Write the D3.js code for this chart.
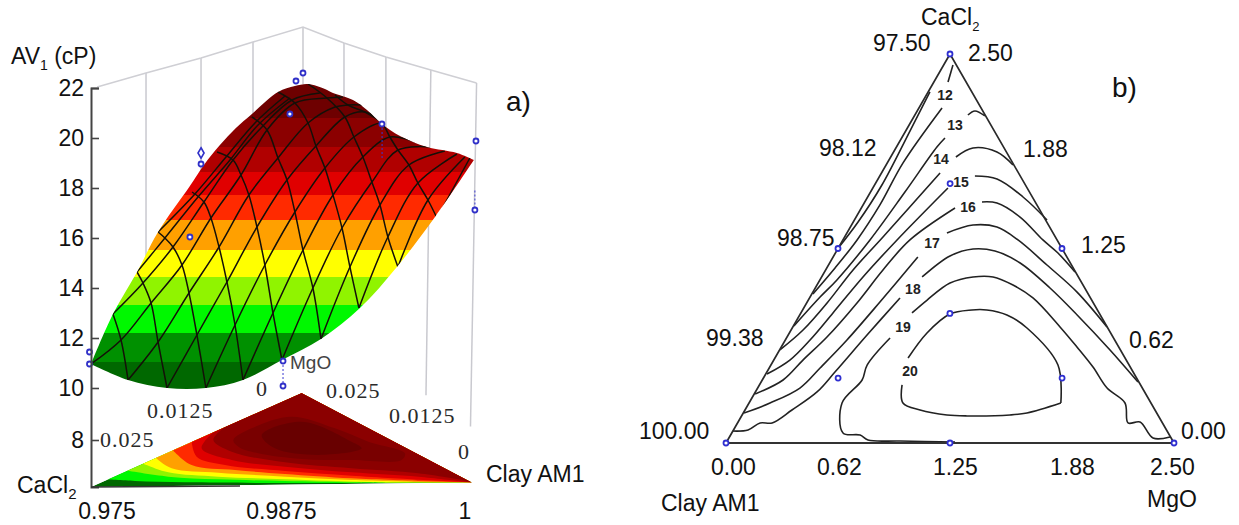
<!DOCTYPE html>
<html>
<head>
<meta charset="utf-8">
<script src="https://cdn.jsdelivr.net/npm/d3@7"></script>
<style>
  html, body { margin: 0; padding: 0; background: #fff; }
  svg { display: block; }
  text { font-family: "Liberation Sans", Arial, sans-serif; fill: #111; }
  .serif { font-family: "Liberation Serif", serif; fill: #2a2a2a; letter-spacing: 1px; }
</style>
</head>
<body>
<div id="chart"></div>
<script>
// panel a: all pairs are [Clay AM1 %, AV1 cP], base pairs are [Clay AM1 %, MgO %]
const avTicks = [8, 10, 12, 14, 16, 18, 20, 22];
const bandLevels = [9, 11.04, 12.2, 13.32, 14.44, 15.52, 16.72, 17.72, 18.64, 19.64, 20.8, 23];
const bandColors = ['#006800', '#009000', '#00f800', '#90f400', '#ffff00', '#ffa000', '#ff2a00', '#e00000', '#b00000', '#8b0000', '#6e0000'];

const surfaceTop = [[97.5, 10.96], [97.644, 12.96], [97.802, 14.64], [97.94, 16.24], [98.149, 18.08], [98.241, 18.92], [98.346, 19.72], [98.451, 20.4], [98.556, 20.96], [98.727, 21.84], [98.838, 22.08], [98.924, 22.16], [99.035, 21.96], [99.088, 21.8], [99.219, 21.52], [99.311, 21.12], [99.409, 20.56], [99.527, 20.08], [99.704, 19.64], [99.901, 19.4], [100.012, 19.12]];
const surfaceFront = [[100.012, 19.12], [99.757, 16.84], [99.507, 14.84], [99.265, 13.2], [99.009, 11.96], [98.753, 11.12], [98.497, 10.32], [98.254, 10], [97.999, 10], [97.743, 10.32], [97.5, 10.96]];

const meshFalling = [
  [[97.644, 12.96], [97.697, 11.92], [97.743, 10.32]],
  [[97.802, 14.64], [97.841, 14.2], [97.894, 13.4], [97.94, 11.84], [97.999, 10]],
  [[97.94, 16.24], [97.985, 16], [98.038, 15.64], [98.097, 14.92], [98.143, 13.8], [98.195, 12.12], [98.254, 10]],
  [[98.163, 17.84], [98.241, 17.44], [98.287, 16.8], [98.34, 15.64], [98.392, 14.24], [98.445, 12.52], [98.497, 10.32]],
  [[98.327, 19.44], [98.432, 19.12], [98.484, 18.52], [98.536, 17.72], [98.589, 16.44], [98.641, 14.92], [98.694, 13], [98.753, 11.12]],
  [[98.556, 20.84], [98.655, 20.32], [98.727, 19.2], [98.786, 18.32], [98.838, 17.04], [98.891, 15.52], [98.956, 14], [99.009, 11.96]],
  [[98.727, 21.84], [98.838, 21.4], [98.924, 20.6], [98.976, 19.68], [99.035, 18.8], [99.088, 17.72], [99.147, 16.4], [99.199, 14.84], [99.258, 13.2]],
  [[98.924, 22.16], [99.048, 21.6], [99.166, 20.84], [99.225, 20.04], [99.284, 19.24], [99.343, 18.24], [99.396, 17.32], [99.448, 16.04], [99.514, 14.84]],
  [[99.101, 21.72], [99.186, 21.32], [99.297, 21.04], [99.409, 20.6], [99.461, 20.04], [99.514, 19.52], [99.586, 18.92], [99.645, 18.2], [99.711, 17.52], [99.77, 16.8]]
];
const meshRising = [
  [[97.94, 16.24], [98.182, 17.76], [98.386, 19.24], [98.582, 20.64], [98.773, 21.68]],
  [[97.802, 14.64], [97.985, 16], [98.202, 17.64], [98.412, 19.12], [98.596, 20.52], [98.805, 21.6]],
  [[97.644, 12.96], [97.841, 14.2], [98.038, 15.64], [98.241, 17.44], [98.432, 19.12], [98.622, 20.44], [98.819, 21.52], [99.002, 21.8]],
  [[97.5, 10.96], [97.697, 11.92], [97.894, 13.4], [98.097, 14.92], [98.287, 16.8], [98.484, 18.52], [98.655, 20.32], [98.838, 21.4], [99.048, 21.6], [99.153, 21.64]],
  [[97.743, 10.32], [97.94, 11.84], [98.143, 13.8], [98.34, 15.64], [98.536, 17.72], [98.727, 19.2], [98.924, 20.6], [99.101, 21.24], [99.186, 21.32], [99.278, 21.32]],
  [[97.999, 10], [98.195, 12.12], [98.392, 14.24], [98.589, 16.44], [98.786, 18.32], [98.976, 19.68], [99.166, 20.84], [99.297, 21.04], [99.416, 20.64]],
  [[98.254, 10], [98.445, 12.52], [98.641, 14.92], [98.838, 17.04], [99.035, 18.8], [99.225, 20.04], [99.409, 20.6], [99.527, 20.12]],
  [[98.497, 10.32], [98.694, 13], [98.891, 15.52], [99.088, 17.72], [99.284, 19.24], [99.461, 20.04], [99.625, 19.84]],
  [[98.753, 11.12], [98.956, 14], [99.147, 16.4], [99.343, 18.24], [99.514, 19.52], [99.724, 19.64]],
  [[99.009, 11.96], [99.199, 14.84], [99.396, 17.32], [99.586, 18.92], [99.822, 19.48]],
  [[99.258, 13.2], [99.448, 16.04], [99.645, 18.2], [99.901, 19.36]],
  [[99.514, 14.84], [99.711, 17.52], [99.953, 19.24]],
  [[99.77, 16.8], [99.986, 19.2]]
];

// back walls of the box
const wallClay = [97.861, 98.222, 98.563, 98.891, 99.16, 99.435, 99.73, 100.03];
const wallClayFoot = [97.861, 98.222, 98.563, 98.891, 99.16, 99.435, 99.698, 99.99];
const wallTop = [22.6, 23.2, 23.84, 24.44, 23.8, 23.24, 22.72, 22.2];
const wallFoot = [15.04, 17.92, 20.8, 22.16, 21.64, 18.6, 9.72, 8.52];
const wallRim = [[97.54, 22.04], [97.861, 22.6], [98.222, 23.2], [98.563, 23.84], [98.891, 24.44], [99.16, 23.8], [99.435, 23.24], [99.73, 22.72], [100.03, 22.2]];

// design points over the surface
const surfacePoints = [[97.49, 11.44], [97.49, 10.96], [98.222, 18.96], [98.149, 16.04], [98.845, 22.28], [98.891, 22.6], [98.805, 20.96], [99.409, 20.56], [100.026, 19.88], [100.019, 17.12], [98.76, 11.08], [98.76, 10.08]];
const surfaceDiamonds = [[98.222, 19.4]];
const pointStems = [[[98.76, 11.08], [98.76, 10.08]], [[100.019, 17.9], [100.019, 17.12]], [[99.41, 20.56], [99.41, 19.2]]];

// base triangle, lower boundary of every colour band, index into bandColors
const baseCorners = [[97.5, 0], [98.882, 2.5], [100, 0.12]];
const baseBandIndex = [2, 3, 4, 5, 6, 7, 8, 9];
const baseBands = [
  [[97.592, 0.204], [97.789, 0.159], [98.117, 0.124], [98.598, 0.106], [99.21, 0.106], [99.648, 0.124]],
  [[97.723, 0.443], [98.007, 0.275], [98.335, 0.204], [98.773, 0.159], [99.21, 0.124], [99.429, 0.115]],
  [[97.832, 0.638], [98.007, 0.39], [98.335, 0.275], [98.773, 0.204], [99.32, 0.133], [99.648, 0.124]],
  [[97.92, 0.789], [98.029, 0.496], [98.335, 0.381], [98.773, 0.275], [99.21, 0.186], [99.648, 0.133]],
  [[98.034, 0.993], [98.16, 0.585], [98.445, 0.452], [98.773, 0.346], [99.21, 0.23], [99.648, 0.159]],
  [[98.16, 1.215], [98.193, 0.807], [98.379, 0.585], [98.773, 0.425], [99.21, 0.301], [99.648, 0.195]],
  [[98.303, 1.463], [98.226, 1.028], [98.423, 0.718], [98.773, 0.541], [99.21, 0.39], [99.648, 0.275], [99.91, 0.159]],
  [[98.379, 1.605], [98.303, 1.25], [98.423, 0.939], [98.773, 0.656], [99.21, 0.496], [99.648, 0.363], [99.932, 0.186]]
];
const basePeakOuter = [[98.434, 1.25], [98.554, 1.56], [98.816, 1.871], [99.101, 1.56], [99.32, 1.206], [99.56, 0.895], [99.538, 0.718], [99.21, 0.718], [98.882, 0.745], [98.598, 0.895], [98.467, 1.073]];
const basePeakInner = [[98.62, 1.383], [98.882, 1.738], [99.21, 1.206], [99.276, 1.028], [98.992, 0.851], [98.707, 1.028]];

// panel b: all pairs are [MgO %, CaCl2 %]
const ternaryPoints = [[0, 2.5], [0, 1.25], [1.25, 1.25], [0.417, 1.667], [0.833, 0.833], [0.417, 0.417], [1.667, 0.417], [0, 0], [1.25, 0], [2.5, 0]];
const contourLines = [
  [[0, 1.253], [0.027, 1.42], [0.041, 1.658], [0.024, 2.005], [0.01, 2.256]],
  [[0.052, 2.429], [0.079, 2.32]],
  [[0.006, 0.958], [0.046, 1.125], [0.079, 1.305], [0.094, 1.53], [0.088, 1.8], [0.129, 2.153]],
  [[0.003, 0.752], [0.056, 0.938], [0.095, 1.048], [0.151, 1.305], [0.192, 1.613], [0.226, 1.902], [0.242, 1.96]],
  [[0.296, 2.108], [0.322, 2.134], [0.394, 2.102]],
  [[0.002, 0.598], [0.067, 0.726], [0.114, 0.9], [0.153, 1.112], [0.214, 1.324], [0.327, 1.735]],
  [[0.364, 1.838], [0.43, 1.896], [0.577, 1.87], [0.708, 1.787]],
  [[0.007, 0.443], [0.09, 0.533], [0.138, 0.662], [0.179, 0.836], [0.231, 1.067], [0.302, 1.305], [0.419, 1.639]],
  [[0.531, 1.716], [0.664, 1.697], [0.867, 1.581], [1.075, 1.433]],
  [[0.005, 0.315], [0.116, 0.405], [0.163, 0.533], [0.223, 0.681], [0.281, 0.9], [0.32, 1.112], [0.374, 1.305], [0.523, 1.51]],
  [[0.654, 1.549], [0.741, 1.542], [0.915, 1.452], [1.116, 1.305], [1.242, 1.221], [1.398, 1.099]],
  [[0.004, 0.193], [0.117, 0.257], [0.236, 0.353], [0.284, 0.482], [0.344, 0.662], [0.406, 0.906], [0.473, 1.195]],
  [[0.558, 1.35], [0.678, 1.401], [0.818, 1.388], [0.977, 1.305], [1.219, 1.144], [1.474, 0.97], [1.753, 0.746]],
  [[0, 0.077], [0.081, 0.084], [0.126, 0.129], [0.193, 0.129], [0.262, 0.212], [0.344, 0.328], [0.38, 0.456], [0.44, 0.694], [0.505, 0.932]],
  [[0.561, 1.067], [0.649, 1.202], [0.755, 1.247], [0.884, 1.234], [1.063, 1.157], [1.31, 0.996], [1.548, 0.823], [1.844, 0.598], [2.103, 0.392]],
  [[0.578, 0.675], [0.537, 0.501], [0.557, 0.405], [0.519, 0.257], [0.621, 0.064], [0.723, 0.051], [0.783, 0.019], [0.965, 0.013], [1.275, 0.006]],
  [[0.62, 0.836], [0.663, 0.919], [0.736, 1.028], [0.845, 1.067], [0.957, 1.067], [1.094, 1.015], [1.247, 0.932], [1.491, 0.746], [1.65, 0.617], [1.804, 0.488], [1.95, 0.353], [2.098, 0.257], [2.179, 0.129], [2.243, 0.135], [2.367, 0.032], [2.458, 0.039]],
  [[0.796, 0.373], [0.859, 0.257], [0.977, 0.212], [1.143, 0.18], [1.258, 0.174], [1.495, 0.18], [1.583, 0.193], [1.74, 0.257]],
  [[1.74, 0.257], [1.602, 0.501], [1.31, 0.739], [1.156, 0.823], [1.028, 0.855], [0.945, 0.855], [0.835, 0.829], [0.768, 0.707], [0.743, 0.546]]
];
const contourValues = [12, 13, 14, 15, 16, 17, 18, 19, 20];
const contourLabelSpots = [[0.104, 2.237], [0.256, 2.044], [0.287, 1.825], [0.473, 1.677], [0.592, 1.517], [0.507, 1.285], [0.548, 0.99], [0.615, 0.746], [0.795, 0.463]];

const svg = d3.select('#chart').append('svg').attr('width', 1239).attr('height', 525);

function label(x, y, str, opts = {}) {
  const t = svg.append('text')
    .attr('x', x)
    .attr('y', y)
    .attr('class', opts.cls || null)
    .style('font-size', (opts.size || 23) + 'px')
    .style('text-anchor', opts.anchor || 'start')
    .text(str);
  if (opts.fill) t.style('fill', opts.fill);
  if (opts.sub) {
    t.append('tspan').attr('dy', opts.subDy || 7).style('font-size', (opts.subSize || 14) + 'px').text(opts.sub);
    if (opts.after) t.append('tspan').attr('dy', -(opts.subDy || 7)).text(opts.after);
  }
  return t;
}

// ---------- panel a ----------
const xClay = d3.scaleLinear().domain([97.5, 100]).range([91, 472]);
const yAv = d3.scaleLinear().domain([6.04, 8, 10, 22]).range([487, 440, 388, 88]);
const yMgo = d3.scaleLinear().domain([0, 2.5]).range([487, 393]);

const surfaceLine = d3.line().x(d => xClay(d[0])).y(d => yAv(d[1])).curve(d3.curveCatmullRom.alpha(0.5));
const baseLine = d3.line().x(d => xClay(d[0])).y(d => yMgo(d[1]));

// walls
wallClay.forEach((c, i) => {
  svg.append('line')
    .attr('x1', xClay(c)).attr('y1', yAv(wallTop[i]))
    .attr('x2', xClay(wallClayFoot[i])).attr('y2', yAv(wallFoot[i]))
    .attr('stroke', '#c9c9cf').attr('stroke-width', 1.5);
});
svg.append('path')
  .attr('d', d3.line().x(d => xClay(d[0])).y(d => yAv(d[1]))(wallRim))
  .attr('fill', 'none').attr('stroke', '#cfcfd4').attr('stroke-width', 1.5);

// surface, flat colour bands clipped by the outline
const outline = surfaceLine(surfaceTop) + surfaceLine(surfaceFront).replace('M', 'L') + 'Z';
svg.append('clipPath').attr('id', 'surfaceClip').append('path').attr('d', outline);
const surface = svg.append('g').attr('clip-path', 'url(#surfaceClip)');
surface.selectAll('rect')
  .data(bandColors)
  .enter().append('rect')
  .attr('x', 85)
  .attr('width', 395)
  .attr('y', (d, i) => yAv(bandLevels[i + 1]))
  .attr('height', (d, i) => yAv(bandLevels[i]) - yAv(bandLevels[i + 1]))
  .attr('fill', d => d);
surface.selectAll('path.mesh')
  .data(meshFalling.concat(meshRising))
  .enter().append('path')
  .attr('class', 'mesh')
  .attr('d', surfaceLine)
  .attr('fill', 'none')
  .attr('stroke', '#141008')
  .attr('stroke-width', 1.5);

// design points and stems
svg.selectAll('line.stem')
  .data(pointStems)
  .enter().append('line')
  .attr('class', 'stem')
  .attr('x1', d => xClay(d[0][0])).attr('y1', d => yAv(d[0][1]))
  .attr('x2', d => xClay(d[1][0])).attr('y2', d => yAv(d[1][1]))
  .attr('stroke', '#3a3ad0').attr('stroke-width', 1).attr('stroke-dasharray', '2,2');
svg.selectAll('circle.surfacePoint')
  .data(surfacePoints)
  .enter().append('circle')
  .attr('class', 'surfacePoint')
  .attr('cx', d => xClay(d[0]))
  .attr('cy', d => yAv(d[1]))
  .attr('r', 2.5)
  .attr('fill', '#fff')
  .attr('stroke', '#3030c8')
  .attr('stroke-width', 1.8);
svg.selectAll('path.surfaceDiamond')
  .data(surfaceDiamonds)
  .enter().append('path')
  .attr('class', 'surfaceDiamond')
  .attr('transform', d => 'translate(' + xClay(d[0]) + ',' + yAv(d[1]) + ')')
  .attr('d', d3.symbol().type(d3.symbolDiamond).size(32))
  .attr('fill', '#fff')
  .attr('stroke', '#3030c8')
  .attr('stroke-width', 1.6);

// contour map on the base
const baseClosed = pts => baseLine(pts) + 'Z';
svg.append('clipPath').attr('id', 'baseClip').append('path').attr('d', baseClosed(baseCorners));
const base = svg.append('g').attr('clip-path', 'url(#baseClip)');
base.append('path').attr('d', baseClosed(baseCorners)).attr('fill', bandColors[0]);
const baseCurve = d3.line().x(d => xClay(d[0])).y(d => yMgo(d[1])).curve(d3.curveCatmullRom.alpha(0.5));
baseBands.forEach((band, i) => {
  const lower = baseCurve(band);
  const last = band[band.length - 1];
  const upper = baseLine([last, baseCorners[2], baseCorners[1], band[0]]).replace('M', 'L');
  base.append('path').attr('d', lower + upper + 'Z').attr('fill', bandColors[baseBandIndex[i]]);
});
const closedCurve = d3.line().x(d => xClay(d[0])).y(d => yMgo(d[1])).curve(d3.curveCatmullRomClosed.alpha(0.5));
base.append('path').attr('d', closedCurve(basePeakOuter)).attr('fill', '#790000');
base.append('path').attr('d', closedCurve(basePeakInner)).attr('fill', '#680000');

// AV axis, ticks point into the box
const axisAv = svg.append('g')
  .attr('transform', 'translate(91,0)')
  .call(d3.axisLeft(yAv).tickValues(avTicks).tickSizeInner(-8).tickSizeOuter(-8).tickPadding(7));
axisAv.selectAll('text').style('font-size', '23px').style('fill', '#111').style('font-family', '"Liberation Sans", Arial, sans-serif');
axisAv.selectAll('line').attr('stroke', '#444').attr('stroke-width', 1.6);
axisAv.select('.domain').attr('stroke', '#444').attr('stroke-width', 2);
svg.append('line')
  .attr('x1', 91).attr('x2', 240).attr('y1', 487).attr('y2', 486)
  .attr('stroke', '#333').attr('stroke-width', 1.6);

label(11, 64, 'AV', { sub: '1', after: ' (cP)', subDy: 6 });
label(506, 111, 'a)', { size: 28 });
label(17, 493, 'CaCl', { sub: '2', subSize: 15, subDy: 6 });
label(486, 482, 'Clay AM1');
label(290, 369, 'MgO', { size: 19, fill: '#444' });
label(107, 519, '0.975', { anchor: 'middle' });
label(xClay(98.75), 519, '0.9875', { anchor: 'middle' });
label(465, 519, '1', { anchor: 'middle' });
label(147, 418, '0.0125', { cls: 'serif', size: 22 });
label(100, 447, '0.025', { cls: 'serif', size: 22 });
label(256, 396, '0', { cls: 'serif', size: 22 });
label(326, 398, '0.025', { cls: 'serif', size: 22 });
label(389, 423, '0.0125', { cls: 'serif', size: 22 });
label(458, 459, '0', { cls: 'serif', size: 22 });

// ---------- panel b ----------
const xTern = d3.scaleLinear().domain([0, 2.5]).range([726, 1174]);
const yTern = d3.scaleLinear().domain([0, 2.5]).range([443, 54]);
const ternX = d => xTern(d[0] + d[1] / 2);
const ternY = d => yTern(d[1]);

const contour = d3.line().x(ternX).y(ternY).curve(d3.curveCatmullRom.alpha(0.5));
svg.selectAll('path.contour')
  .data(contourLines)
  .enter().append('path')
  .attr('class', 'contour')
  .attr('d', contour)
  .attr('fill', 'none')
  .attr('stroke', '#222')
  .attr('stroke-width', 1.6);

svg.append('path')
  .attr('d', d3.line().x(ternX).y(ternY)([[0, 0], [0, 2.5], [2.5, 0]]))
  .attr('fill', 'none')
  .attr('stroke', '#2a2a2a')
  .attr('stroke-width', 1.7);
svg.append('line')
  .attr('x1', xTern(0)).attr('x2', xTern(2.5)).attr('y1', yTern(0)).attr('y2', yTern(0))
  .attr('stroke', '#333').attr('stroke-width', 2.2);

svg.selectAll('text.contourLabel')
  .data(contourValues)
  .enter().append('text')
  .attr('class', 'contourLabel')
  .attr('x', (d, i) => ternX(contourLabelSpots[i]))
  .attr('y', (d, i) => ternY(contourLabelSpots[i]) + 5)
  .style('font-size', '14px')
  .style('font-weight', 'bold')
  .style('text-anchor', 'middle')
  .style('fill', '#222')
  .text(d => d);

svg.selectAll('circle.ternPoint')
  .data(ternaryPoints)
  .enter().append('circle')
  .attr('class', 'ternPoint')
  .attr('cx', ternX)
  .attr('cy', ternY)
  .attr('r', 2.5)
  .attr('fill', '#fff')
  .attr('stroke', '#2f2fd0')
  .attr('stroke-width', 1.8);

label(921, 25, 'CaCl', { sub: '2', subSize: 13, subDy: 6 });
label(873, 51, '97.50');
label(968, 61, '2.50');
label(819, 156, '98.12');
label(1023, 157, '1.88');
label(777, 246, '98.75');
label(1081, 253, '1.25');
label(706, 346, '99.38');
label(1129, 348, '0.62');
label(639, 439, '100.00');
label(1181, 439, '0.00');
label(711, 475, '0.00');
label(817, 475, '0.62');
label(933, 475, '1.25');
label(1050, 475, '1.88');
label(1150, 475, '2.50');
label(661, 511, 'Clay AM1');
label(1147, 507, 'MgO');
label(1112, 97, 'b)', { size: 28 });
</script>
</body>
</html>
